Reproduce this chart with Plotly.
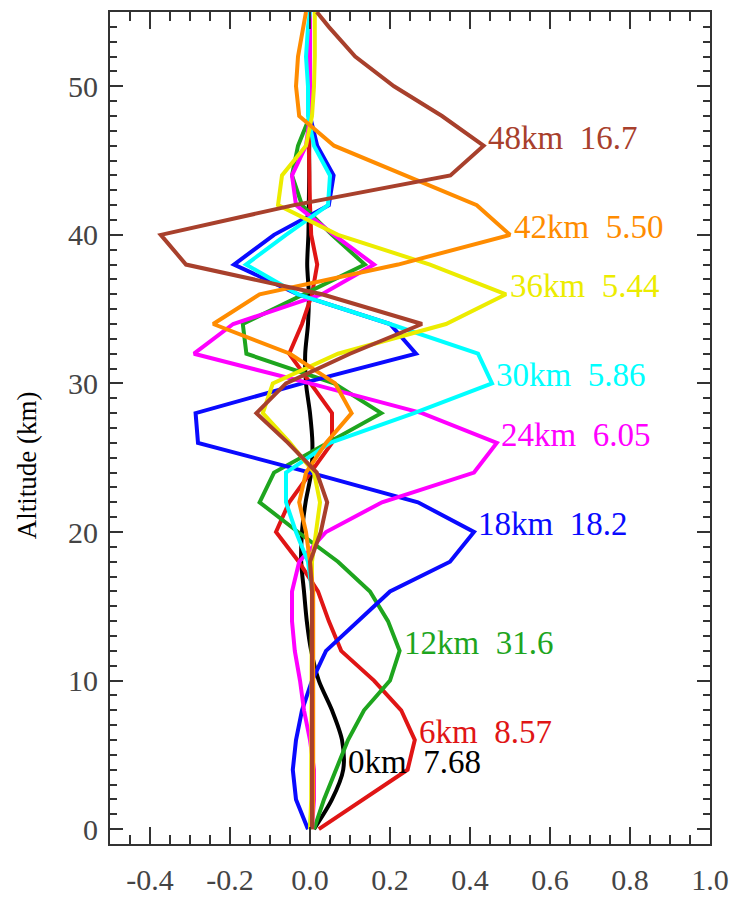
import plotly.graph_objects as go

# Altitude grid (km)
ALT = [0, 2, 4, 6, 8, 10, 12, 14, 16, 18, 20, 22, 24, 26, 28, 30, 32, 34, 36, 38,
       40, 42, 44, 46, 48, 50, 52, 54, 55]

k0 = [0.010, 0.055, 0.083, 0.080, 0.055, 0.022, 0.003, -0.008, -0.015, -0.022, -0.020, -0.011,
      0.003, 0.006, 0.000, -0.010, -0.012, -0.005, -0.003, -0.007, -0.004, -0.003, -0.002,
      -0.002, 0.0, 0.0, 0.0, 0.0, 0.0]
k6 = [0.022, 0.133, 0.244, 0.262, 0.228, 0.160, 0.078, 0.047, 0.020, -0.028, -0.085, -0.052,
      0.000, 0.055, 0.055, 0.000, -0.052, -0.020, 0.005, 0.018, 0.003, 0.000, -0.002, -0.003,
      0.0, 0.0, 0.0, 0.0, 0.0]
k12 = [0.010, 0.035, 0.065, 0.095, 0.135, 0.200, 0.224, 0.195, 0.150, 0.070, -0.030, -0.126,
       -0.090, 0.045, 0.178, 0.060, -0.159, -0.168, -0.015, 0.137, 0.055, -0.020, -0.045, -0.030,
       0.0, 0.0, 0.0, 0.0, 0.0]
k18 = [-0.005, -0.035, -0.043, -0.035, -0.020, 0.005, 0.040, 0.120, 0.200, 0.350, 0.410, 0.270,
       0.000, -0.280, -0.286, -0.020, 0.265, 0.200, -0.030, -0.190, -0.090, 0.047, 0.059, 0.018,
       0.0, 0.0, 0.0, 0.0, 0.0]
k24 = [0.005, 0.010, 0.010, 0.000, -0.015, -0.025, -0.038, -0.045, -0.045, -0.027, 0.040, 0.180,
       0.410, 0.467, 0.280, 0.000, -0.290, -0.192, 0.030, 0.160, 0.060, -0.035, -0.045, -0.010,
       0.0, 0.0, 0.0, 0.0, 0.0]
k30 = [0.000, 0.005, 0.005, 0.005, 0.005, 0.005, 0.005, 0.005, 0.005, -0.005, -0.035, -0.060,
       -0.060, 0.050, 0.260, 0.455, 0.420, 0.200, -0.030, -0.160, -0.060, 0.045, 0.050, 0.010,
       -0.005, -0.005, -0.010, -0.005, 0.000]
k36 = [0.000, 0.003, 0.003, 0.003, 0.003, 0.003, 0.003, 0.003, 0.003, 0.005, 0.015, 0.025,
       0.010, -0.050, -0.118, -0.093, 0.070, 0.340, 0.490, 0.300, 0.070, -0.080, -0.070, -0.010,
       0.005, 0.010, 0.012, 0.012, 0.012]
k42 = [0.005, 0.008, 0.008, 0.008, 0.008, 0.008, 0.008, 0.008, 0.008, 0.000, -0.010, -0.027,
       -0.010, 0.040, 0.104, 0.063, -0.050, -0.242, -0.126, 0.220, 0.500, 0.417, 0.240, 0.060,
       -0.027, -0.035, -0.030, -0.015, -0.010]
k48 = [0.005, 0.005, 0.005, 0.005, 0.005, 0.005, 0.005, 0.005, 0.005, 0.000, 0.027, 0.043,
       0.017, -0.055, -0.134, -0.060, 0.100, 0.280, 0.030, -0.310, -0.373, -0.040, 0.351, 0.434,
       0.330, 0.210, 0.113, 0.047, 0.017]

SERIES = [k0, k6, k12, k18, k24, k30, k36, k42, k48]
NAMES = ["0km", "6km", "12km", "18km", "24km", "30km", "36km", "42km", "48km"]
WIDTHS = ["7.68", "8.57", "31.6", "18.2", "6.05", "5.86", "5.44", "5.50", "16.7"]
COLORS = ["#000000", "#e01515", "#1ea51e", "#0a0aff", "#ff00ff", "#00ffff",
          "#ecec00", "#ff8c00", "#a8402c"]
SHAPES = ["spline", "linear", "linear", "linear", "linear", "linear", "linear", "linear", "linear"]

XTICKS = [-0.4, -0.2, 0.0, 0.2, 0.4, 0.6, 0.8, 1.0]
XTICKTEXT = ["-0.4", "-0.2", "0.0", "0.2", "0.4", "0.6", "0.8", "1.0"]
YTICKS = [0, 10, 20, 30, 40, 50]
YTITLE = "Altitude (km)"

fig = go.Figure()
for vals, name, col, shp in zip(SERIES, NAMES, COLORS, SHAPES):
    fig.add_trace(go.Scatter(x=vals, y=ALT, mode="lines", name=name,
                             line=dict(color=col, width=4, shape=shp, smoothing=0.8),
                             hoverinfo="skip"))

# labels next to each kernel's peak
for vals, name, w, col in zip(SERIES, NAMES, WIDTHS, COLORS):
    i = max(range(len(vals)), key=lambda j: vals[j])
    fig.add_annotation(x=vals[i] + 0.006, y=ALT[i] + 0.55, xref="x", yref="y",
                       text=f"{name}\u00a0 {w}", showarrow=False,
                       xanchor="left", yanchor="middle",
                       font=dict(family="Liberation Serif", size=33, color=col))

# y-axis title placed as rotated text
fig.add_annotation(x=-0.137, y=0.455, xref="paper", yref="paper", text=YTITLE,
                   textangle=-90, showarrow=False, xanchor="center", yanchor="middle",
                   font=dict(family="Liberation Serif", size=27, color="#000"))

axis_common = dict(showline=True, linecolor="#333", linewidth=2, mirror="ticks",
                   ticks="inside", tickcolor="#333", tickwidth=2,
                   showgrid=False, zeroline=False,
                   tickfont=dict(family="Liberation Serif", size=30, color="#444"))

fig.update_xaxes(range=[-0.5, 1.0], tickvals=XTICKS, ticktext=XTICKTEXT, ticklen=17,
                 minor=dict(dtick=0.05, ticks="inside", ticklen=9, tickwidth=2,
                            tickcolor="#333", showgrid=False),
                 ticklabelstandoff=8, **axis_common)
fig.update_yaxes(range=[-1, 55], tickvals=YTICKS, ticklen=13,
                 minor=dict(dtick=1, ticks="inside", ticklen=7, tickwidth=2,
                            tickcolor="#333", showgrid=False),
                 ticklabelstandoff=4, **axis_common)

fig.update_layout(width=739, height=906, margin=dict(l=110, r=26, t=10, b=53),
                  plot_bgcolor="white", paper_bgcolor="white", showlegend=False)

fig.write_html("out.html")
